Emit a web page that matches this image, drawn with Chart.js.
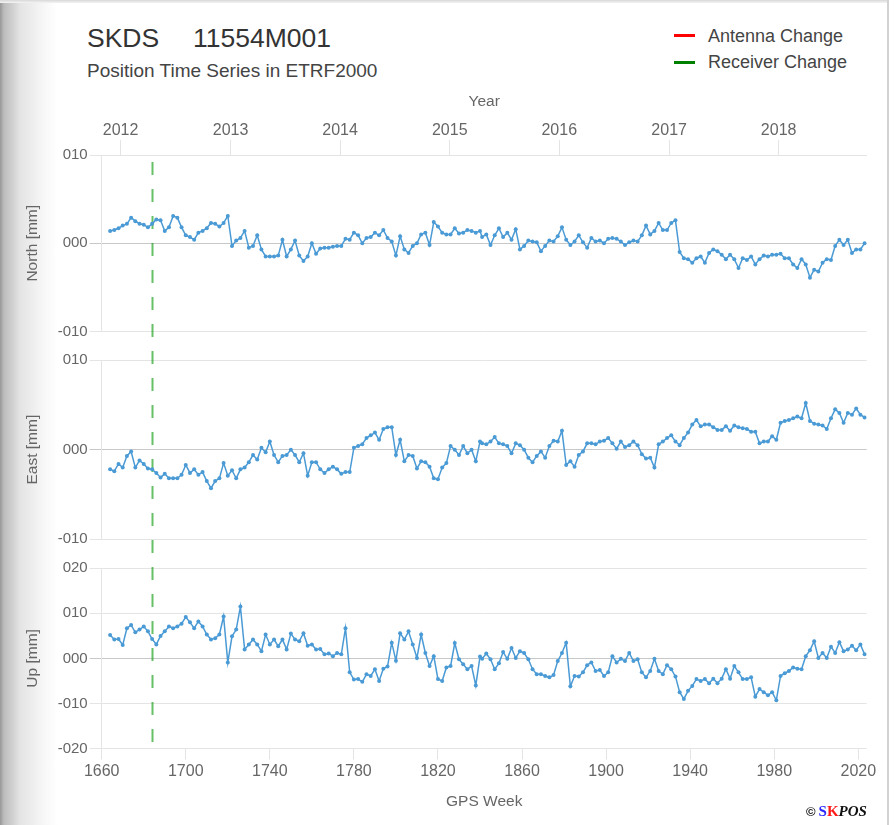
<!DOCTYPE html>
<html>
<head>
<meta charset="utf-8">
<title>SKDS 11554M001</title>
<script src="https://cdn.jsdelivr.net/npm/chart.js"></script>
<style>
    html, body { margin: 0; padding: 0; background: #fff; }
    .page { position: relative; width: 895px; height: 825px; overflow: hidden; font-family: Arial, "Liberation Sans", sans-serif; background: #fff; }
    .shade { position: absolute; left: 0; top: 0; width: 57px; height: 825px;
        background: linear-gradient(to right, #979797 0px, #bcbcbc 4px, #cfcfcf 12px, #e4e4e4 20px, #efefef 34px, #f7f7f7 44px, #ffffff 57px); }
    .topline { position: absolute; left: 0; top: 0; width: 889px; height: 3px; background: linear-gradient(#d8d8d8, #f4f4f4); }
    .rightline { position: absolute; left: 887px; top: 0; width: 2px; height: 825px; background: #d2d2d2; }
    canvas { position: absolute; left: 0; }
    .title { position: absolute; top: 25px; font-size: 26.5px; line-height: 26.5px; color: #333; white-space: nowrap; }
    .subtitle { position: absolute; left: 87px; top: 61px; font-size: 19px; line-height: 19px; color: #444; white-space: nowrap; }
    .legend-item { position: absolute; left: 674px; font-size: 18px; line-height: 18px; color: #444; white-space: nowrap; }
    .legend-item span { display: inline-block; width: 21px; height: 3px; margin-right: 13px; vertical-align: middle; position: relative; top: -1px; }
    .logo { position: absolute; left: 806px; top: 803px; white-space: nowrap; font-family: "Liberation Serif", "DejaVu Serif", serif; font-weight: bold; font-size: 15px; color: #111; }
    .logo .c { font-family: Arial, "Liberation Sans", sans-serif; font-size: 13px; margin-right: 3px; }
    .logo .s { color: #2a2aff; }
    .logo .k { color: #ff1a1a; }
    .logo .p { font-style: italic; }
</style>
</head>
<body>
<div class="page">
    <div class="shade"></div>
    <div class="topline"></div>
    <div class="rightline"></div>

    <div class="title" style="left: 87px;">SKDS</div>
    <div class="title" style="left: 193px;">11554M001</div>
    <div class="subtitle">Position Time Series in ETRF2000</div>

    <div class="legend-item" style="top: 26.5px;"><span style="background: #ff0000;"></span>Antenna Change</div>
    <div class="legend-item" style="top: 53px;"><span style="background: #008000;"></span>Receiver Change</div>

    <canvas id="northChart" width="895" height="265" style="top: 80px;"></canvas>
    <canvas id="eastChart" width="895" height="210" style="top: 345px;"></canvas>
    <canvas id="upChart" width="895" height="270" style="top: 555px;"></canvas>

    <div class="logo"><span class="c">&copy;</span><span class="s">S</span><span class="k">K</span><span class="p">POS</span></div>
</div>

<script>
// GPS weeks of the solutions
const weeks = [
    1664, 1666, 1668, 1670, 1672, 1674, 1676, 1678, 1680, 1682,
    1684, 1686, 1688, 1690, 1692, 1694, 1696, 1698, 1700, 1702,
    1704, 1706, 1708, 1710, 1712, 1714, 1716, 1718, 1720, 1722,
    1724, 1726, 1728, 1730, 1732, 1734, 1736, 1738, 1740, 1742,
    1744, 1746, 1748, 1750, 1752, 1754, 1756, 1758, 1760, 1762,
    1764, 1766, 1768, 1770, 1772, 1774, 1776, 1778, 1780, 1782,
    1784, 1786, 1788, 1790, 1792, 1794, 1796, 1798, 1800, 1802,
    1804, 1806, 1808, 1810, 1812, 1814, 1816, 1818, 1820, 1822,
    1824, 1826, 1828, 1830, 1832, 1834, 1836, 1838, 1840,
    1841, 1843, 1845, 1847, 1849, 1851, 1853, 1855, 1857, 1859,
    1861, 1863, 1865, 1867, 1869, 1871, 1873, 1875, 1877, 1879,
    1881, 1883, 1885, 1887, 1889, 1891, 1893, 1895, 1897, 1899,
    1901, 1903, 1905, 1907, 1909, 1911, 1913, 1915, 1917, 1919,
    1921, 1923, 1925, 1927, 1929, 1931, 1933, 1935, 1937, 1939,
    1941, 1943, 1945, 1947, 1949, 1951, 1953, 1955, 1957, 1959,
    1961, 1963, 1965, 1967, 1969, 1971, 1973, 1975, 1977, 1979,
    1981, 1983, 1985, 1987, 1989, 1991, 1993, 1995, 1997, 1999,
    2001, 2003, 2005, 2007, 2009, 2011, 2013, 2015, 2017, 2019,
    2021, 2023
];

// North [mm]
const north = [
    1.4, 1.5, 1.7, 2.0, 2.2, 2.9, 2.5, 2.2, 2.1, 1.8,
    2.2, 2.7, 2.6, 1.4, 1.8, 3.1, 2.9, 1.8, 0.9, 0.7,
    0.4, 1.2, 1.4, 1.7, 2.3, 2.2, 1.9, 2.3, 3.1, -0.3,
    0.3, 0.6, 1.4, -0.5, -0.3, 0.9, -0.7, -1.5, -1.5, -1.5,
    -1.4, 0.4, -1.5, -0.7, 0.3, -1.4, -2.0, -1.5, 0.0, -1.2,
    -0.6, -0.5, -0.5, -0.4, -0.3, -0.3, 0.5, 0.4, 1.2, 0.9,
    0.0, 0.6, 0.7, 1.2, 0.9, 1.5, 0.6, 0.2, -1.4, 0.8,
    -0.7, -1.1, -0.3, 0.0, 1.0, 1.2, -0.2, 2.4, 1.9, 1.2,
    1.0, 1.0, 1.7, 1.1, 1.2, 1.5, 1.4, 1.2, 1.4,
    0.7, 1.0, -0.2, 0.9, 1.7, 0.7, 1.2, 0.4, 1.6, -0.7,
    -0.3, 0.3, 0.2, 0.1, -0.9, -0.3, 0.3, 0.2, 0.8, 1.8,
    0.4, -0.2, 0.2, 0.9, 0.1, -0.5, 0.6, 0.2, 0.3, 0.0,
    0.5, 0.6, 0.5, 0.2, -0.2, 0.1, 0.3, 0.2, 0.9, 2.0,
    1.0, 1.4, 2.3, 1.5, 1.5, 2.3, 2.6, -1.0, -1.7, -1.8,
    -2.2, -1.7, -1.5, -2.2, -1.1, -0.7, -0.9, -1.3, -1.8, -1.3,
    -1.8, -2.8, -1.7, -1.9, -1.5, -2.4, -1.8, -1.4, -1.5, -1.3,
    -1.3, -1.2, -1.7, -1.7, -2.4, -2.8, -1.8, -2.4, -3.9, -3.0,
    -3.2, -2.2, -1.8, -1.9, -0.3, 0.4, -0.2, 0.4, -1.1, -0.7,
    -0.7, 0.0
];

// East [mm]
const east = [
    -2.2, -2.4, -1.6, -2.0, -0.7, -0.2, -2.0, -1.2, -1.6, -2.1,
    -2.2, -2.6, -3.1, -2.7, -3.2, -3.2, -3.2, -2.8, -1.7, -2.6,
    -2.2, -2.8, -2.5, -3.5, -4.3, -3.5, -3.2, -1.5, -2.9, -2.3,
    -3.2, -2.2, -2.0, -1.4, -0.6, -1.1, 0.2, -0.3, 0.9, -0.6,
    -1.4, -0.7, -0.6, 0.0, -0.6, -1.4, -0.4, -2.9, -1.4, -1.4,
    -2.2, -2.6, -2.2, -1.9, -2.2, -2.7, -2.5, -2.5, 0.2, 0.4,
    0.6, 1.3, 1.6, 1.9, 1.1, 2.3, 2.5, 2.5, -0.6, 1.1,
    -1.3, -0.6, -0.7, -2.1, -1.3, -1.4, -1.9, -3.2, -3.3, -2.0,
    -1.5, 0.4, 0.0, -0.6, 0.4, -0.4, 0.0, -1.3, 0.9,
    0.7, 0.6, 0.9, 1.4, 0.7, 0.6, 0.4, -0.4, 0.7, 0.5,
    0.0, -0.9, -1.4, -0.7, -0.2, -0.9, 0.4, 1.0, 0.9, 2.1,
    -1.7, -1.3, -1.9, -0.6, -0.2, 0.7, 0.7, 0.6, 0.9, 1.0,
    1.3, 0.7, 0.1, 0.9, 0.3, 0.5, 0.9, 0.5, -0.5, -1.0,
    -0.9, -2.0, 0.6, 0.9, 1.3, 1.6, 0.9, 0.5, 1.3, 1.9,
    2.8, 3.3, 2.6, 2.8, 2.8, 2.5, 2.2, 2.2, 2.6, 2.1,
    2.7, 2.5, 2.4, 2.3, 2.0, 2.0, 0.7, 0.9, 0.9, 1.5,
    1.1, 3.0, 3.2, 3.3, 3.5, 3.7, 3.5, 5.2, 3.2, 2.9,
    2.8, 2.7, 2.3, 3.5, 4.5, 4.1, 3.0, 4.1, 3.9, 4.6,
    3.9, 3.6
];

// Up [mm]
const up = [
    5.2, 4.2, 4.3, 3.0, 6.7, 7.4, 5.8, 6.4, 7.1, 6.0,
    4.3, 3.1, 5.0, 6.0, 7.1, 6.7, 7.1, 7.7, 9.2, 8.0,
    6.7, 8.2, 7.1, 5.3, 4.2, 4.5, 5.3, 9.3, -0.9, 4.9,
    6.4, 11.5, 2.0, 3.1, 4.2, 3.1, 1.6, 5.3, 3.1, 4.2,
    2.7, 4.2, 2.0, 5.5, 4.2, 3.8, 5.6, 2.8, 3.1, 2.0,
    2.1, 0.9, 1.1, 0.5, 1.2, 0.9, 6.7, -3.1, -4.7, -4.6,
    -5.2, -3.5, -3.9, -2.4, -5.0, -2.3, -1.8, 3.5, -0.5, 5.6,
    4.2, 6.0, 3.1, 0.1, 5.3, 1.2, -1.7, 0.5, -4.6, -5.0,
    -2.0, -1.7, 3.4, -0.2, -1.3, -2.4, -1.7, -6.0, 0.4,
    -0.1, 1.1, -0.2, -2.4, -1.1, 1.4, -0.1, 2.3, 0.1, 1.6,
    1.2, -0.2, -2.4, -3.5, -3.5, -3.9, -4.2, -3.7, -0.6, 1.2,
    3.5, -6.2, -3.9, -4.0, -3.1, -1.5, -0.9, -2.8, -2.6, -3.9,
    -3.1, 0.5, -0.9, -0.1, -0.6, 1.2, -0.6, -0.2, -3.1, -4.2,
    -2.8, -0.1, -2.8, -3.5, -1.5, -2.4, -4.0, -7.5, -9.0, -7.2,
    -6.1, -4.6, -5.0, -4.6, -5.5, -4.5, -5.5, -4.5, -2.4, -4.5,
    -1.7, -3.1, -4.6, -4.6, -4.2, -8.5, -6.8, -7.5, -8.2, -7.5,
    -9.3, -3.9, -3.3, -2.8, -2.0, -2.3, -2.4, 0.5, 1.8, 3.8,
    0.1, 1.2, 0.1, 2.6, 1.2, 3.6, 1.6, 2.0, 2.8, 1.8,
    3.1, 0.9
];

// axis ticks
const weekMin = 1660;
const weekMax = 2024;
const weekTicks = [1660, 1700, 1740, 1780, 1820, 1860, 1900, 1940, 1980, 2020];
const yearLabels = ['2012', '2013', '2014', '2015', '2016', '2017', '2018'];
const yearWeeks = [1669.0, 1721.3, 1773.4, 1825.6, 1877.7, 1930.0, 1982.1];

// equipment changes
const receiverWeeks = [1684];
const antennaWeeks = [];

const fontFamily = 'Arial, "Liberation Sans", sans-serif';
const tickColor = '#666';
const gridLineColor = '#e4e4e4';
const zeroLineColor = '#c8c8c8';
const seriesColor = '#4a9ad5';

function padTick(value) {
    const s = String(Math.abs(value)).padStart(3, '0');
    return value < 0 ? '-' + s : s;
}

// dashed vertical lines at receiver / antenna changes, drawn across the panel gaps
const changeLines = {
    id: 'changeLines',
    beforeDatasetsDraw(chart, args, opts) {
        const area = chart.chartArea;
        const top = opts.fromEdge ? 0 : area.top;
        const bottom = opts.toEdge ? chart.height : area.bottom;
        const ctx = chart.ctx;
        const draw = (list, color) => {
            list.forEach(w => {
                const x = Math.round(chart.scales.x.getPixelForValue(w)) + 0.5;
                ctx.save();
                ctx.strokeStyle = color;
                ctx.lineWidth = 2;
                ctx.setLineDash([13, 14]);
                ctx.lineDashOffset = (chart.canvas.offsetTop + top) % 27;
                ctx.beginPath();
                ctx.moveTo(x, top);
                ctx.lineTo(x, bottom);
                ctx.stroke();
                ctx.restore();
            });
        };
        draw(antennaWeeks, 'rgba(255, 0, 0, 0.6)');
        draw(receiverWeeks, 'rgba(0, 150, 0, 0.6)');
    }
};

function makePanel(canvasId, values, label, yMin, yMax, padding, lineOpts, extraScales) {
    const scales = {
        x: {
            type: 'linear',
            min: weekMin,
            max: weekMax,
            display: false
        },
        y: {
            type: 'linear',
            min: yMin,
            max: yMax,
            afterFit: scale => { scale.width = 101.7; },
            grid: {
                color: ctx => (ctx.tick && ctx.tick.value === 0 ? zeroLineColor : gridLineColor),
                tickLength: 12
            },
            border: { color: gridLineColor },
            ticks: {
                stepSize: 10,
                padding: 2,
                color: tickColor,
                font: { family: fontFamily, size: 15 },
                callback: v => padTick(v)
            },
            title: {
                display: true,
                text: label,
                color: tickColor,
                font: { family: fontFamily, size: 15.5 },
                padding: { top: 23, bottom: 0 }
            }
        }
    };
    Object.assign(scales, extraScales || {});

    return new Chart(document.getElementById(canvasId), {
        type: 'line',
        data: {
            datasets: [{
                label: label,
                data: weeks.map((w, i) => ({ x: w, y: values[i] })),
                borderColor: seriesColor,
                backgroundColor: seriesColor,
                borderWidth: 1.5,
                pointRadius: 2,
                pointHoverRadius: 2,
                pointBorderWidth: 0,
                pointBackgroundColor: seriesColor,
                tension: 0,
                fill: false
            }]
        },
        options: {
            responsive: false,
            animation: false,
            devicePixelRatio: 1,
            layout: { padding: padding },
            plugins: {
                legend: { display: false },
                tooltip: { enabled: false },
                changeLines: lineOpts
            },
            scales: scales
        },
        plugins: [changeLines]
    });
}

// North with the year axis on top
makePanel('northChart', north, 'North [mm]', -10, 10,
    { left: 0, right: 28.3, top: 12.7, bottom: 13.5 },
    { fromEdge: false, toEdge: true },
    {
        xTop: {
            type: 'linear',
            position: 'top',
            min: weekMin,
            max: weekMax,
            afterBuildTicks: scale => { scale.ticks = yearWeeks.map(v => ({ value: v })); },
            grid: { drawOnChartArea: false, tickLength: 15, color: gridLineColor },
            border: { color: gridLineColor },
            ticks: {
                autoSkip: false,
                maxRotation: 0,
                padding: 0,
                color: tickColor,
                font: { family: fontFamily, size: 16 },
                callback: (v, i) => yearLabels[i]
            },
            title: {
                display: true,
                text: 'Year',
                color: tickColor,
                font: { family: fontFamily, size: 15.5 },
                padding: { top: 0, bottom: 9.5 }
            }
        }
    });

// East
makePanel('eastChart', east, 'East [mm]', -10, 10,
    { left: 0, right: 28.3, top: 15, bottom: 15.7 },
    { fromEdge: true, toEdge: true });

// Up with the GPS week axis at the bottom
makePanel('upChart', up, 'Up [mm]', -20, 20,
    { left: 0, right: 28.3, top: 13.3, bottom: 9.7 },
    { fromEdge: true, toEdge: false },
    {
        x: {
            type: 'linear',
            position: 'bottom',
            min: weekMin,
            max: weekMax,
            afterBuildTicks: scale => { scale.ticks = weekTicks.map(v => ({ value: v })); },
            grid: { drawOnChartArea: false, tickLength: 11, color: gridLineColor },
            border: { display: false },
            ticks: {
                autoSkip: false,
                maxRotation: 0,
                padding: 2,
                color: tickColor,
                font: { family: fontFamily, size: 16 },
                callback: v => String(v)
            },
            title: {
                display: true,
                text: 'GPS Week',
                color: tickColor,
                font: { family: fontFamily, size: 15.5 },
                padding: { top: 10, bottom: 4 }
            }
        }
    });
</script>
</body>
</html>
